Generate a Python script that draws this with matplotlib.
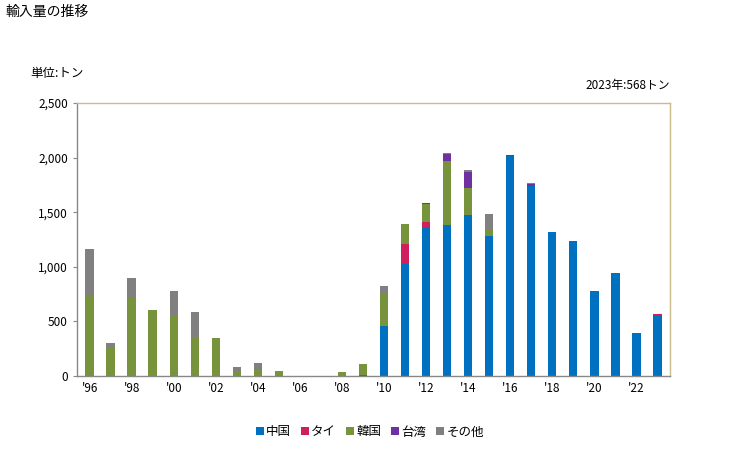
import matplotlib
matplotlib.use("Agg")
import matplotlib.pyplot as plt
import numpy as np
from matplotlib.ticker import FuncFormatter

plt.rcParams['font.family'] = ['Noto Sans CJK JP', 'DejaVu Sans']

years = list(range(1996, 2024))
china = [0, 0, 0, 0, 0, 0, 0, 0, 0, 0, 0, 0, 0, 9, 458, 1027, 1369, 1384, 1476, 1283, 2011, 1742, 1320, 1238, 779, 944, 394, 559]
thai = [0, 0, 0, 0, 0, 0, 0, 0, 0, 0, 0, 0, 0, 0, 0, 183, 43, 0, 0, 0, 0, 0, 0, 0, 0, 0, 0, 9]
korea = [743, 254, 712, 605, 550, 358, 348, 37, 55, 46, 0, 0, 37, 101, 294, 183, 159, 587, 247, 65, 0, 0, 0, 0, 0, 0, 0, 0]
taiwan = [0, 0, 0, 0, 0, 0, 0, 0, 0, 0, 0, 0, 0, 0, 0, 0, 9, 64, 147, 0, 15, 18, 0, 0, 0, 0, 0, 0]
other = [421, 49, 186, 0, 229, 229, 0, 46, 64, 0, 0, 0, 0, 0, 73, 0, 0, 9, 19, 137, 0, 9, 0, 0, 0, 0, 0, 0]

series = [("中国", china, "#0070c0"), ("タイ", thai, "#d01f5f"), ("韓国", korea, "#77933c"),
          ("台湾", taiwan, "#7030a0"), ("その他", other, "#808080")]

fig = plt.figure(figsize=(7.29, 4.5), dpi=100)
ax = fig.add_axes([77/729, 1-376/450, (670-77)/729, (376-103)/450])

x = np.arange(len(years))
bottom = np.zeros(len(years))
handles = []
for name, vals, col in series:
    v = np.array(vals, dtype=float)
    h = ax.bar(x, v, width=0.4, bottom=bottom, color=col, label=name, linewidth=0)
    handles.append(h)
    bottom += v

ax.set_xlim(-0.6, len(years) - 0.4)
ax.set_ylim(0, 2500)
ax.set_yticks(range(0, 2501, 500))
ax.yaxis.set_major_formatter(FuncFormatter(lambda v, p: f"{int(v):,}"))
ax.set_xticks(x[::2])
ax.set_xticklabels([f"'{str(y)[2:]}" for y in years[::2]])
ax.tick_params(axis='both', labelsize=8.5, colors='#000000', length=3, width=0.8)
ax.tick_params(axis='x', length=0, pad=4)
ax.tick_params(axis='y', color='#888888')
for s in ['top', 'right']:
    ax.spines[s].set_color('#c8bc8c')
for s in ['left', 'bottom']:
    ax.spines[s].set_color('#888888')
for s in ax.spines.values():
    s.set_linewidth(1.0)

fig.text(5/729, 1-12/450, "輸入量の推移", fontsize=10, va='center', ha='left')
fig.text(30/729, 1-73/450, "単位:トン", fontsize=9, va='center', ha='left')
fig.text(670/729, 1-86/450, "2023年:568トン", fontsize=8.5, va='center', ha='right')

fig.legend(handles=handles, loc='center', bbox_to_anchor=(370/729, 1-432/450), ncol=5,
           frameon=False, fontsize=9, handlelength=0.6, handleheight=0.6, handletextpad=0.2,
           columnspacing=0.8)

fig.savefig("out.png", dpi=100)
